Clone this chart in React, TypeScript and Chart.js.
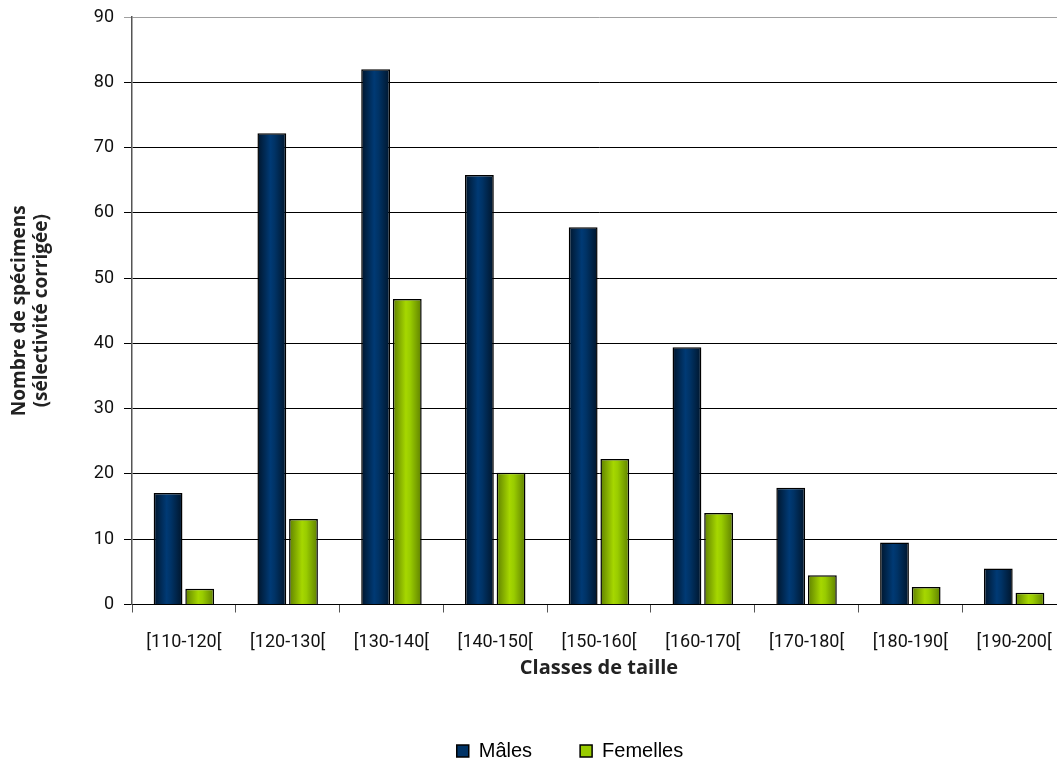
import React, { useEffect, useRef } from "react";
import { Chart, registerables } from "chart.js";

Chart.register(...registerables);

const categories = [
  "[110-120[",
  "[120-130[",
  "[130-140[",
  "[140-150[",
  "[150-160[",
  "[160-170[",
  "[170-180[",
  "[180-190[",
  "[190-200[",
];
const males = [17.1, 72.2, 82.0, 65.8, 57.8, 39.4, 17.9, 9.5, 5.5];
const females = [2.4, 13.1, 46.8, 20.2, 22.3, 14.0, 4.5, 2.7, 1.8];
const yMin = 0;
const yMax = 90;
const yStep = 10;

const seriesNames = ["Mâles", "Femelles"];
const seriesColors = ["#003366", "#99cc00"];
const seriesEdges = ["#00152b", "#5f8000"];
const seriesCenters = ["#003a75", "#a6d700"];

const gradientPlugin = {
  id: "barGradient",
  beforeDatasetsDraw(chart: any) {
    const ctx = chart.ctx;
    chart.data.datasets.forEach((ds: any, di: number) => {
      const meta = chart.getDatasetMeta(di);
      meta.data.forEach((el: any) => {
        const x = el.x;
        const width = el.width;
        const g = ctx.createLinearGradient(x - width / 2, 0, x + width / 2, 0);
        g.addColorStop(0, seriesEdges[di]);
        g.addColorStop(0.45, seriesCenters[di]);
        g.addColorStop(0.6, seriesColors[di]);
        g.addColorStop(1, seriesEdges[di]);
        el.options = Object.assign(Object.create(Object.getPrototypeOf(el.options)), el.options, { backgroundColor: g });
      });
    });
  },
};

export default function App() {
  const ref = useRef<HTMLCanvasElement | null>(null);
  useEffect(() => {
    if (!ref.current) return;
    const chart = new Chart(ref.current, {
      type: "bar",
      data: {
        labels: categories,
        datasets: [
          {
            label: seriesNames[0],
            data: males,
            backgroundColor: (c: any) => seriesColors[c.datasetIndex],
            borderColor: "#000000",
            borderWidth: 1.5,
            categoryPercentage: 0.61,
            barPercentage: 0.91,
          },
          {
            label: seriesNames[1],
            data: females,
            backgroundColor: (c: any) => seriesColors[c.datasetIndex],
            borderColor: "#000000",
            borderWidth: 1.5,
            categoryPercentage: 0.61,
            barPercentage: 0.91,
          },
        ],
      },
      plugins: [gradientPlugin],
      options: {
        animation: false,
        responsive: false,
        maintainAspectRatio: false,
        layout: { padding: { top: 17, right: 0, left: 0, bottom: 0 } },
        plugins: {
          tooltip: { enabled: false },
          legend: {
            position: "bottom",
            maxHeight: 68,
            labels: {
              font: { family: "'Liberation Sans', Arial, sans-serif", size: 20 },
              color: "#000",
              boxWidth: 12,
              boxHeight: 12,
              padding: 48,
            },
          },
        },
        scales: {
          x: {
            afterFit: (s: any) => {
              const lh = s.chart.legend ? s.chart.legend.height : 0;
              s.height = 156.5 - lh;
              s.paddingLeft = 0;
              s.paddingRight = 0;
            },
            grid: {
              offset: true,
              drawOnChartArea: false,
              drawTicks: true,
              tickLength: 8,
              color: "#555",
            },
            border: { color: "#000", width: 1 },
            ticks: {
              font: { family: "Roboto, sans-serif", size: 18 },
              color: "#111",
              padding: 19,
              maxRotation: 0,
              autoSkip: false,
            },
            title: {
              display: true,
              text: "Classes de taille",
              font: { family: "'Open Sans', sans-serif", size: 20, weight: "bold" },
              color: "#222",
              padding: { top: 10, bottom: 13 },
            },
          },
          y: {
            min: yMin,
            max: yMax,
            afterFit: (s: any) => {
              s.width = 132;
              s.paddingTop = 0;
              s.paddingBottom = 0;
            },
            grid: {
              color: (c: any) => (c.tick && c.tick.value === yMax ? "#a0a0a0" : "#000"),
              lineWidth: 1,
              tickLength: 8,
            },
            border: { color: "#555", width: 1.5 },
            ticks: {
              stepSize: yStep,
              font: { family: "Roboto, sans-serif", size: 18 },
              color: "#111",
              padding: 10,
            },
            title: {
              display: true,
              text: ["Nombre de spécimens", "(sélectivité corrigée)"],
              font: { family: "'Open Sans', sans-serif", size: 19, weight: "bold", lineHeight: 1.15 },
              color: "#222",
              padding: { top: 9, bottom: 0 },
            },
          },
          yRight: {
            position: "right",
            display: true,
            afterFit: (s: any) => {
              s.width = 74;
              s.paddingTop = 0;
              s.paddingBottom = 0;
            },
            grid: { display: false, drawTicks: false },
            border: { display: false },
            ticks: { display: false },
          },
        },
      },
    });
    return () => chart.destroy();
  }, []);
  return (
    <div style={{ position: "fixed", left: 0, top: 0, width: 1057, height: 761, overflow: "hidden", background: "#fff" }}>
      <canvas ref={ref} width={1140} height={761} style={{ display: "block", width: 1140, height: 761 }} />
    </div>
  );
}
